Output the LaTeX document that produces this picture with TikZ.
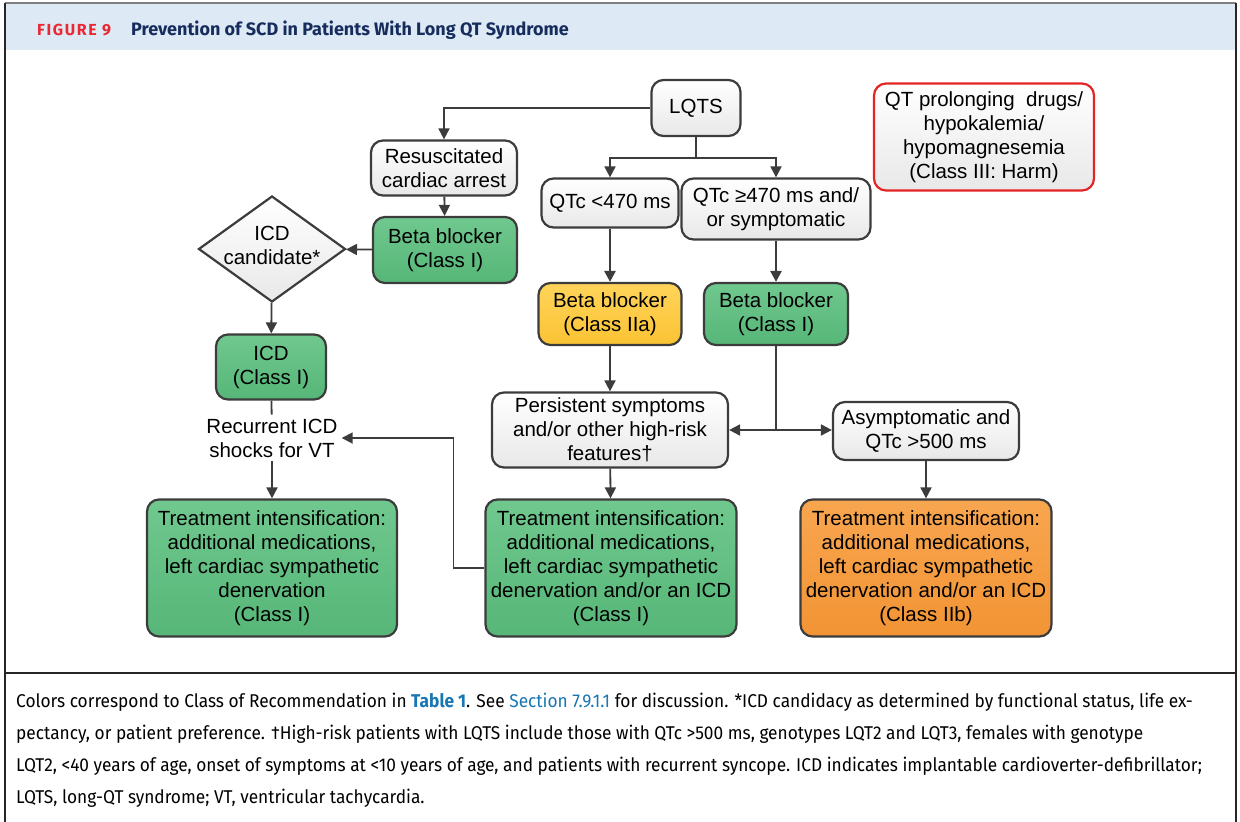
\documentclass[tikz,border=0pt]{standalone}
\usepackage{fontspec}
\setmainfont{Liberation Sans}
\newfontfamily\capfont[FakeStretch=0.935]{Fira Sans}
\newfontfamily\headfont{Fira Sans}
\newfontfamily\figfont[LetterSpace=10]{Fira Sans}
\usetikzlibrary{shapes.geometric,arrows.meta,positioning,calc}
\definecolor{edge}{RGB}{60,60,60}
\definecolor{grnA}{RGB}{112,200,142}
\definecolor{grnB}{RGB}{86,182,120}
\definecolor{ylwA}{RGB}{255,212,90}
\definecolor{ylwB}{RGB}{251,195,52}
\definecolor{orgA}{RGB}{248,166,80}
\definecolor{orgB}{RGB}{242,148,52}
\definecolor{harmred}{RGB}{228,36,36}
\definecolor{hdrblue}{RGB}{221,233,245}
\definecolor{navy}{RGB}{22,44,92}
\definecolor{figred}{RGB}{232,40,50}
\definecolor{lnk}{RGB}{24,118,178}
\newcommand\diafont{\fontsize{20.5}{24}\selectfont}
\newcommand\capsize{\fontsize{18.5}{32}\selectfont}

\begin{document}
\begin{tikzpicture}[x=1pt,y=-1pt,
    box/.style={draw=edge,line width=2.2pt,rounded corners=12pt,align=center,
        inner sep=2pt,top color=white,bottom color=gray!18,font=\diafont},
    grn/.style={box,top color=grnA,bottom color=grnB},
    ylw/.style={box,top color=ylwA,bottom color=ylwB},
    org/.style={box,top color=orgA,bottom color=orgB},
    flow/.style={draw=edge,line width=1.8pt,-{Triangle[length=11pt,width=11pt]}},
    capline/.style={anchor=base west,inner sep=0pt,font=\capfont\capsize}]
    \useasboundingbox (0,0) rectangle (1240,822);
    % frame and header
    \fill[hdrblue] (5,3) rectangle (1236,50);
    \draw[gray,line width=1.2pt] (5,3) -- (1236,3);
    \draw[black!85,line width=2pt] (5,3) -- (5,822) (1236,3) -- (1236,822);
    \draw[black!85,line width=1.5pt] (5,673) -- (1236,673);
    \node[anchor=base west,inner sep=0pt,text=figred,font=\figfont\bfseries\fontsize{16}{18}\selectfont] (fig) at (37,35) {FIGURE 9};
    \node[anchor=base west,inner sep=0pt,text=navy,font=\headfont\bfseries\fontsize{18}{20}\selectfont] (title) at (131,35) {Prevention of SCD in Patients With Long QT Syndrome};
    % flow chart
    \node[box,minimum width=89pt,minimum height=56pt] (lqts) at (696,108) {LQTS};
    \node[box,minimum width=146pt,minimum height=55pt] (resus) at (444,168) {Resuscitated\\cardiac arrest};
    \node[grn,minimum width=144pt,minimum height=66pt] (bbl) at (445,250) {Beta blocker\\(Class I)};
    \node[diamond,draw=edge,line width=2.2pt,top color=white,bottom color=gray!18,
        minimum width=147pt,minimum height=106pt,inner sep=0pt,font=\diafont] (cand) at (272,249)
        {\smash{\makebox[0pt]{\raisebox{-4pt}{\begin{tabular}{@{}c@{}}ICD\\candidate*\end{tabular}}}}};
    \node[grn,minimum width=110pt,minimum height=65pt] (icd) at (271,367) {ICD\\(Class I)};
    \node[align=center,font=\diafont,inner sep=4pt] (recur) at (272,438) {Recurrent ICD\\shocks for VT};
    \node[grn,minimum width=250pt,minimum height=137pt] (trl) at (272,568)
        {Treatment intensification:\\additional medications,\\left cardiac sympathetic\\denervation\\(Class I)};
    \node[box,minimum width=137pt,minimum height=49pt] (qlo) at (610,203) {QTc <470 ms};
    \node[box,minimum width=189pt,minimum height=61pt] (qhi) at (776,209) {QTc ≥470 ms and/\\or symptomatic};
    \node[ylw,minimum width=143pt,minimum height=62pt] (bby) at (610,314) {Beta blocker\\(Class IIa)};
    \node[grn,minimum width=144pt,minimum height=62pt] (bbr) at (776,314) {Beta blocker\\(Class I)};
    \node[box,minimum width=236pt,minimum height=75pt] (pers) at (610,430) {Persistent symptoms\\and/or other high-risk\\features†};
    \node[box,minimum width=186pt,minimum height=58pt] (asym) at (926,431) {Asymptomatic and\\QTc >500 ms};
    \node[grn,minimum width=251pt,minimum height=137pt] (trm) at (611,568)
        {Treatment intensification:\\additional medications,\\left cardiac sympathetic\\denervation and/or an ICD\\(Class I)};
    \node[org,minimum width=251pt,minimum height=137pt] (trr) at (926,568)
        {Treatment intensification:\\additional medications,\\left cardiac sympathetic\\denervation and/or an ICD\\(Class IIb)};
    \node[box,draw=harmred,minimum width=220pt,minimum height=107pt] (harm) at (984,137)
        {QT prolonging\ \ drugs/\\hypokalemia/\\hypomagnesemia\\(Class III: Harm)};
    % connectors
    \draw[flow] (lqts.west) -| (resus.north);
    \draw[draw=edge,line width=1.8pt] (lqts.south) -- ++(0,21) coordinate (split);
    \draw[flow] (split) -| (qlo.north);
    \draw[flow] (split) -| (qhi.north);
    \draw[flow] (resus) -- (bbl);
    \draw[flow] (bbl) -- (cand);
    \draw[flow] (cand) -- (icd);
    \draw[draw=edge,line width=1.8pt] (icd) -- (recur);
    \draw[flow] (recur) -- (trl);
    \draw[flow,line width=2.6pt] (qlo) -- (bby);
    \draw[flow,line width=2.6pt] (qhi) -- (bbr);
    \draw[flow] (bby) -- (pers);
    \draw[draw=edge,line width=1.8pt] (bbr.south) -- (bbr.south |- pers.east) coordinate (fork);
    \draw[flow] (fork) -- (pers.east);
    \draw[flow] (fork) -- (fork -| asym.west);
    \draw[flow] (pers) -- (trm);
    \draw[flow] (asym) -- (trr);
    \draw[flow] (trm.west) -- ++(-31,0) |- (recur.east);
    % caption
    \node[capline] (cap1) at (16,707) {Colors correspond to Class of Recommendation in {\bfseries\color{lnk}Table 1}. See {\color{lnk}Section 7.9.1.1} for discussion. *ICD candidacy as determined by functional status, life ex-};
    \node[capline] (cap2) at (16,739) {pectancy, or patient preference. †High-risk patients with LQTS include those with QTc >500 ms, genotypes LQT2 and LQT3, females with genotype};
    \node[capline] (cap3) at (16,771) {LQT2, <40 years of age, onset of symptoms at <10 years of age, and patients with recurrent syncope. ICD indicates implantable cardioverter-defibrillator;};
    \node[capline] (cap4) at (16,803) {LQTS, long-QT syndrome; VT, ventricular tachycardia.};
\end{tikzpicture}
\end{document}
